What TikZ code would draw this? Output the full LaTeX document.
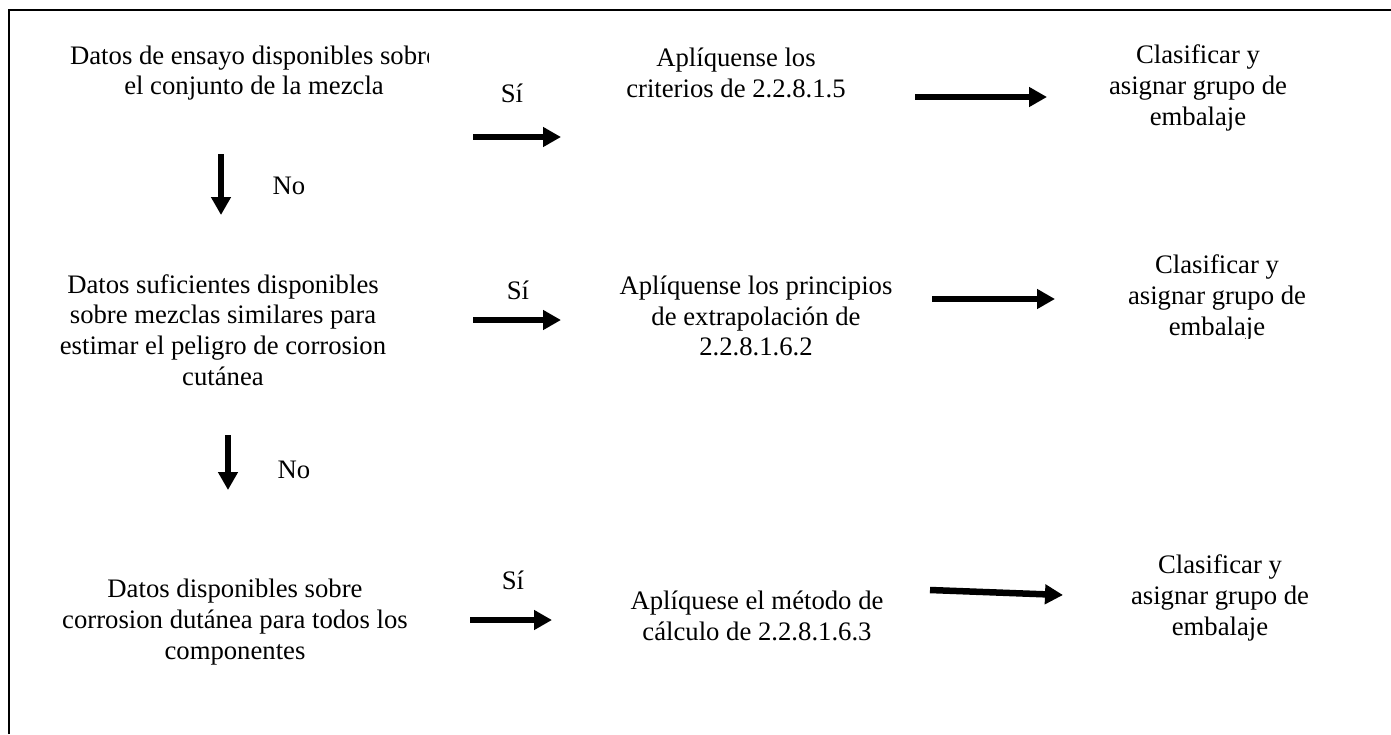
\documentclass[tikz,border=0pt]{standalone}
\usepackage{fontspec}
\setmainfont{Liberation Serif}
\usetikzlibrary{arrows.meta}
\begin{document}
\begin{tikzpicture}[x=1pt, y=-1pt]
  \tikzstyle{txt}=[align=center, inner sep=0pt, font=\fontsize{26.7}{30.7}\selectfont]
  \tikzstyle{edge}=[-{Triangle[length=18pt, width=19pt]}, line width=6.5pt]

  \useasboundingbox (0,0) rectangle (1391,734);
  \draw[line width=1.5pt] (9,734) -- (9,10) -- (1391,10);

  % first row
  \begin{scope}
    \clip (0,0) rectangle (428,200);
    \node[txt] (a1) at (254, 73) {Datos de ensayo disponibles sobre\\el conjunto de la mezcla};
  \end{scope}
  \node[txt] (b1) at (736, 73) {Aplíquense los\\criterios de 2.2.8.1.5};
  \node[txt] (c1) at (1198, 88) {Clasificar y\\asignar grupo de\\embalaje};

  % second row
  \node[txt] (a2) at (223, 330) {Datos suficientes disponibles\\sobre mezclas similares para\\estimar el peligro de corrosion\\cutánea};
  \node[txt] (b2) at (756, 316) {Aplíquense los principios\\de extrapolación de\\2.2.8.1.6.2};
  \begin{scope}
    \clip (1000,230) rectangle (1391,338);
    \node[txt] (c2) at (1217, 298) {Clasificar y\\asignar grupo de\\embalaje};
  \end{scope}

  % third row
  \node[txt] (a3) at (235, 622) {Datos disponibles sobre\\corrosion dutánea para todos los\\componentes};
  \node[txt] (b3) at (757, 616) {Aplíquese el método de\\cálculo de 2.2.8.1.6.3};
  \node[txt] (c3) at (1220, 598) {Clasificar y\\asignar grupo de\\embalaje};

  % labels
  \node[txt] (si1) at (512, 93)  {Sí};
  \node[txt] (si2) at (518, 290) {Sí};
  \node[txt] (si3) at (513, 580) {Sí};
  \node[txt] (no1) at (289, 186) {No};
  \node[txt] (no2) at (294, 470) {No};

  % arrow ends
  \coordinate (p1) at (473, 137);  \coordinate (q1) at (561, 137);
  \coordinate (p2) at (915, 97);   \coordinate (q2) at (1047, 97);
  \coordinate (p3) at (473, 320);  \coordinate (q3) at (561, 320);
  \coordinate (p4) at (932, 299);  \coordinate (q4) at (1055, 299);
  \coordinate (p5) at (470, 620);  \coordinate (q5) at (552, 620);
  \coordinate (p6) at (930, 590);  \coordinate (q6) at (1063, 595);
  \coordinate (u1) at (221, 154);  \coordinate (v1) at (221, 215);
  \coordinate (u2) at (228, 435);  \coordinate (v2) at (228, 490);

  \path[edge] (p1) edge (q1);
  \path[edge] (p2) edge (q2);
  \path[edge] (p3) edge (q3);
  \path[edge] (p4) edge (q4);
  \path[edge] (p5) edge (q5);
  \path[edge] (p6) edge (q6);
  \path[edge] (u1) edge (v1);
  \path[edge] (u2) edge (v2);
\end{tikzpicture}
\end{document}
